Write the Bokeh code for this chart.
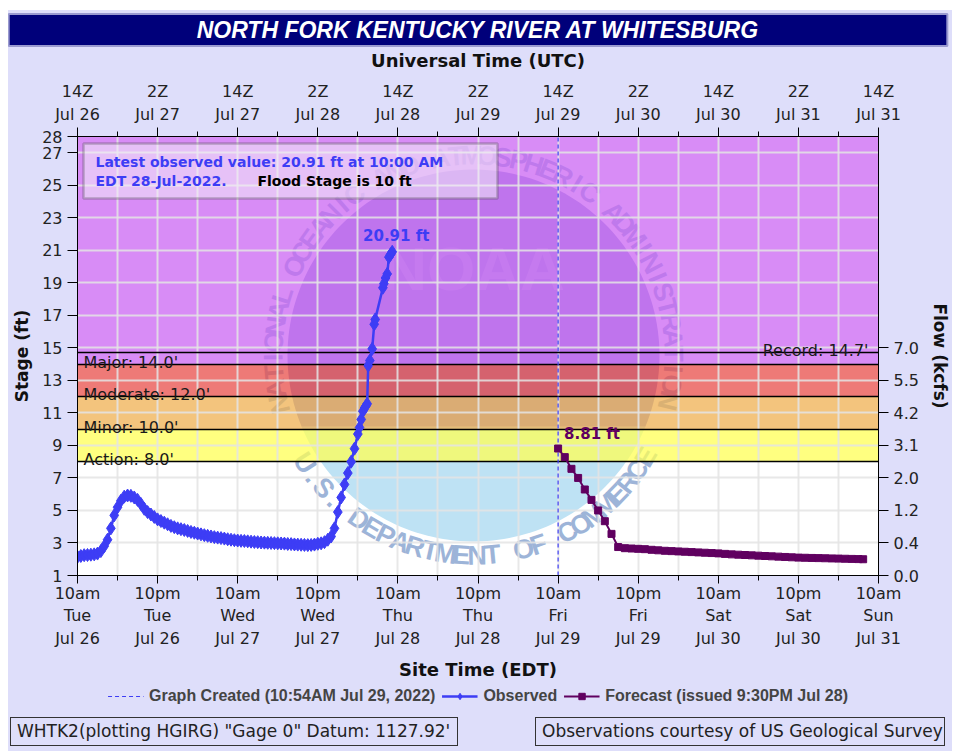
import numpy as np
from bokeh.plotting import figure
from bokeh.layouts import column
from bokeh.models import (Range1d, LinearAxis, FixedTicker, Label, BoxAnnotation,
                          Legend, LegendItem, Title, Div)
from bokeh.core.properties import value
from bokeh.embed import file_html
from bokeh.resources import INLINE

# ---------------- data ----------------
# hours since 10am EDT Tue Jul 26 2022
obs_hours = [0, 0.5, 1, 1.5, 2, 2.5, 3, 3.5, 4, 4.5, 5, 5.5, 6, 6.5, 7, 7.5, 8, 8.5, 9,
             9.5, 10, 10.5, 11, 11.5, 12, 12.5, 13, 13.5, 14, 14.5, 15, 15.5, 16, 16.5,
             17, 17.5, 18, 18.5, 19, 19.5, 20, 20.5, 21, 21.5, 22, 22.5, 23, 23.5, 24,
             24.5, 25, 25.5, 26, 26.5, 27, 27.5, 28, 28.5, 29, 29.5, 30, 30.5, 31, 31.5,
             32, 32.5, 33, 33.5, 34, 34.5, 35, 35.5, 36, 36.5, 37,
             37.5, 38.0, 38.5, 39.0, 39.5, 40.0, 40.5, 41.0, 41.5, 42.0, 42.25, 42.5,
             42.75, 43.0, 43.25, 43.4, 43.55, 43.8, 44.15, 44.45, 44.6, 45.75, 45.9,
             46.15, 46.4, 46.65, 46.9, 47.15]
obs_stage = [2.15, 2.2, 2.25, 2.26, 2.28, 2.3, 2.35, 2.5, 2.8, 3.2, 3.9, 4.7, 5.2, 5.6,
             5.85, 5.92, 5.9, 5.8, 5.65, 5.4, 5.1, 4.9, 4.75, 4.6, 4.45, 4.35, 4.25, 4.15,
             4.05, 3.97, 3.9, 3.85, 3.8, 3.74, 3.68, 3.63, 3.58, 3.53, 3.48, 3.44, 3.4,
             3.36, 3.33, 3.3, 3.27, 3.23, 3.2, 3.17, 3.15, 3.13, 3.12, 3.1, 3.08, 3.06,
             3.05, 3.03, 3.02, 3.01, 3.0, 2.99, 2.98, 2.97, 2.96, 2.94, 2.93, 2.91, 2.9,
             2.89, 2.88, 2.87, 2.88, 2.9, 2.95, 2.98, 3.05,
             3.2, 3.4, 3.9, 4.9, 5.8, 6.6, 7.3, 8.0, 8.8, 9.7, 10.1, 10.6,
             11.1, 11.3, 11.45, 11.56, 13.91, 14.22, 14.94, 16.45, 16.75, 18.7, 18.95,
             19.3, 19.55, 20.58, 20.75, 20.91]
fcst_hours = [72, 73, 74, 75, 76, 77, 78, 79, 80, 81, 82, 83, 84, 85, 86, 87, 88, 89,
              90, 91, 92, 93, 94, 95, 96, 97, 98, 99, 100, 101, 102, 103, 104, 105,
              106, 107, 108, 109, 110, 111, 112, 113, 114, 115, 116, 117, 117.7]
fcst_stage = [8.81, 8.28, 7.56, 7.0, 6.29, 5.65, 5.0, 4.34, 3.56, 2.75, 2.68, 2.66,
              2.64, 2.62, 2.58, 2.55, 2.52, 2.5, 2.48, 2.46, 2.44, 2.42, 2.4, 2.38,
              2.36, 2.33, 2.3, 2.28, 2.26, 2.24, 2.22, 2.2, 2.18, 2.16, 2.14, 2.12,
              2.1, 2.09, 2.08, 2.07, 2.06, 2.05, 2.04, 2.03, 2.02, 2.01, 2.0]
created_hour = 72.0

x_tick_hours = [0, 12, 24, 36, 48, 60, 72, 84, 96, 108, 120]
edt_labels = ["10am\nTue\nJul 26", "10pm\nTue\nJul 26", "10am\nWed\nJul 27",
              "10pm\nWed\nJul 27", "10am\nThu\nJul 28", "10pm\nThu\nJul 28",
              "10am\nFri\nJul 29", "10pm\nFri\nJul 29", "10am\nSat\nJul 30",
              "10pm\nSat\nJul 30", "10am\nSun\nJul 31"]
utc_labels = ["14Z\nJul 26", "2Z\nJul 27", "14Z\nJul 27", "2Z\nJul 28", "14Z\nJul 28",
              "2Z\nJul 29", "14Z\nJul 29", "2Z\nJul 30", "14Z\nJul 30", "2Z\nJul 31",
              "14Z\nJul 31"]
stage_ticks = [1, 3, 5, 7, 9, 11, 13, 15, 17, 19, 21, 23, 25, 27, 28]
flow_tick_stage = [1, 3, 5, 7, 9, 11, 13, 15]
flow_labels = ["0.0", "0.4", "1.2", "2.0", "3.1", "4.2", "5.5", "7.0"]
cat_names = ["Action", "Minor", "Moderate", "Major"]
cat_stage = [8, 10, 12, 14]
cat_top = [10, 12, 14, 28]
cat_colors = ["#FFFF56", "#EFB052", "#E84E49", "#CB66F3"]
record_stage = 14.7

# ---------------- geometry ----------------
FW, FH = 801, 439
X0, X1 = 0, 120
Y0, Y1 = 1, 28
PXH = FW / (X1 - X0)
PXF = FH / (Y1 - Y0)
FL, FB = 77, 575  # page position of frame left / bottom in reference
PAGE_L, PAGE_T = 8, 10
FIG_W = 944
B_LEFT, B_RIGHT = FL - PAGE_L, 74


def hx(px):
    return X0 + (px - FL) / PXH


def sy(py):
    return Y0 + (FB - py) / PXF


BG = "#DEDEFA"
OBS = "#3D3DF5"
FC = "#600060"
FONT = value("DejaVu Sans")

p = figure(frame_width=FW, frame_height=FH, x_range=Range1d(X0, X1),
           y_range=Range1d(Y0, Y1), output_backend="svg", toolbar_location=None,
           min_border_left=B_LEFT, min_border_right=B_RIGHT, min_border_top=136 - PAGE_T,
           min_border_bottom=0, background_fill_color="white",
           border_fill_color=BG, outline_line_color="black")

p.title = Title(text="NORTH FORK KENTUCKY RIVER AT WHITESBURG", align="center",
                text_color="white", text_font="Liberation Sans",
                text_font_style="bold italic", text_font_size="23px",
                background_fill_color="#00007A", border_line_color="#9A9AD0",
                border_line_width=2, padding=dict(left=188, right=188, top=3, bottom=3),
                offset=0, standoff=1)

# ---------------- watermark ----------------
cx, cy = hx(473), sy(355)
R = 186
R_TXT = 200
th_up = np.radians(np.linspace(-22.5, 202.5, 120))
th_lo = np.radians(np.linspace(202.5, 337.5, 80))
p.patch(cx + R * np.cos(th_up) / PXH, cy + R * np.sin(th_up) / PXF,
        fill_color="#9CA0DA", line_color=None, level="image")
p.patch(cx + R * np.cos(th_lo) / PXH, cy + R * np.sin(th_lo) / PXF,
        fill_color="#BEE2F4", line_color=None, level="image")


def ring(text, start, step, top):
    xs, ys, ang = [], [], []
    for i, _ in enumerate(text):
        t = np.radians(start + i * step)
        xs.append(cx + R_TXT * np.cos(t) / PXH)
        ys.append(cy + R_TXT * np.sin(t) / PXF)
        ang.append(t - np.pi / 2 if top else t + np.pi / 2)
    return xs, ys, ang, list(text)


for txt, st, stp, top in [("NATIONAL OCEANIC AND ATMOSPHERIC ADMINISTRATION", 194, -4.5, True),
                          ("U.S. DEPARTMENT OF COMMERCE", 212.5, 4.5, False)]:
    xs, ys, ang, chars = ring(txt, st, stp, top)
    p.text(xs, ys, text=chars, angle=ang, text_align="center", text_baseline="middle",
           text_font=value("Liberation Sans"), text_font_style="bold",
           text_font_size="27px", text_color="#9DB4D8", level="image")
p.text([cx], [sy(268)], text=["NOAA"], text_align="center", text_baseline="middle",
       text_font=value("Liberation Sans"), text_font_style="bold", text_font_size="62px",
       text_color="white", text_alpha=0.25, level="image")

# ---------------- flood bands ----------------
p.hstrip(y0=cat_stage, y1=cat_top, fill_color=cat_colors, fill_alpha=0.75,
         line_color=None, level="image")
p.hspan(y=cat_stage + [record_stage], line_color="black", line_width=1.5)
p.text([X0] * 4, cat_stage, text=[f"{n}: {v:.1f}'" for n, v in zip(cat_names, cat_stage)],
       x_offset=6, y_offset=-2, text_baseline="alphabetic", text_font=FONT,
       text_font_size="16px", text_color="#1a1a1a")
p.text([X1], [record_stage], text=[f"Record: {record_stage}'"], x_offset=-10, y_offset=-2,
       text_align="right", text_baseline="alphabetic", text_font=FONT,
       text_font_size="16px", text_color="#1a1a1a")

# ---------------- grid ----------------
p.xgrid.ticker = FixedTicker(ticks=list(range(X0, X1 + 1, 6)))
p.ygrid.ticker = FixedTicker(ticks=list(range(1, 28, 2)))
for g in (p.xgrid, p.ygrid):
    g.grid_line_color = "#E4E4E4"
    g.grid_line_width = 2
    g.grid_line_alpha = 0.85

# ---------------- axes ----------------
minor = list(range(6, 120, 12))


def style(ax, fs="16px"):
    ax.axis_line_color = "black"
    ax.major_tick_line_color = "black"
    ax.minor_tick_line_color = "black"
    ax.major_tick_in = 0
    ax.minor_tick_in = 0
    ax.major_label_text_font = "DejaVu Sans"
    ax.major_label_text_font_size = fs
    ax.major_label_text_color = "#222222"
    ax.axis_label_text_font = "DejaVu Sans"
    ax.axis_label_text_font_style = "bold"
    ax.axis_label_text_color = "#111111"


xb = p.xaxis[0]
xb.ticker = FixedTicker(ticks=x_tick_hours, minor_ticks=minor)
xb.major_label_overrides = dict(zip(x_tick_hours, edt_labels))
xb.axis_label = "Site Time (EDT)"
style(xb)
xb.major_tick_out = 8
xb.minor_tick_out = 5
xb.major_label_standoff = 0
xb.major_label_text_line_height = 1.2
xb.axis_label_standoff = 8
xb.axis_label_text_font_size = "18px"

xt = LinearAxis(ticker=FixedTicker(ticks=x_tick_hours, minor_ticks=minor),
                major_label_overrides=dict(zip(x_tick_hours, utc_labels)),
                axis_label="Universal Time (UTC)")
style(xt)
xt.major_tick_out = 9
xt.minor_tick_out = 5
xt.major_label_standoff = 4
xt.major_label_text_line_height = 1.2
xt.axis_label_standoff = 8
xt.axis_label_text_font_size = "18px"
p.add_layout(xt, "above")

yl = p.yaxis[0]
yl.ticker = FixedTicker(ticks=stage_ticks)
yl.axis_label = "Stage (ft)"
style(yl)
yl.major_tick_out = 10
yl.minor_tick_out = 0
yl.major_label_standoff = 5
yl.axis_label_standoff = 7
yl.axis_label_text_font_size = "17px"

p.extra_y_ranges = {"flow": Range1d(Y0, Y1)}
yr = LinearAxis(y_range_name="flow", ticker=FixedTicker(ticks=flow_tick_stage),
                major_label_overrides=dict(zip(flow_tick_stage, flow_labels)),
                axis_label="Flow (kcfs)")
style(yr)
yr.major_tick_out = 10
yr.minor_tick_out = 0
yr.major_label_standoff = 5
yr.axis_label_standoff = 8
yr.axis_label_text_font_size = "17px"
p.add_layout(yr, "right")

# ---------------- series ----------------
created_kw = dict(line_color=OBS, line_dash="4 3", line_width=1.2)
obs_line_kw = dict(line_color=OBS, line_width=2.5)
obs_pt_kw = dict(marker="diamond", size=13, fill_color=OBS, line_color=OBS)
fc_line_kw = dict(line_color=FC, line_width=2)
fc_pt_kw = dict(marker="square", size=7, fill_color=FC, line_color=FC)

p.line([created_hour, created_hour], [Y0, Y1], **created_kw)
p.line(obs_hours, obs_stage, **obs_line_kw)
p.scatter(obs_hours, obs_stage, **obs_pt_kw)
p.line(fcst_hours, fcst_stage, **fc_line_kw)
p.scatter(fcst_hours, fcst_stage, **fc_pt_kw)

p.text([obs_hours[-1]], [obs_stage[-1]], text=[f"{obs_stage[-1]:.2f} ft"], x_offset=4,
       y_offset=-7, text_align="center", text_baseline="bottom", text_font=FONT,
       text_font_style="bold", text_font_size="15px", text_color=OBS)
p.text([fcst_hours[0]], [fcst_stage[0]], text=[f"{fcst_stage[0]:.2f} ft"], x_offset=6,
       y_offset=-6, text_align="left", text_baseline="bottom", text_font=FONT,
       text_font_style="bold", text_font_size="15px", text_color=FC)

# ---------------- latest observation box ----------------
p.add_layout(BoxAnnotation(left=hx(83), right=hx(497), top=sy(143), bottom=sy(198),
                           fill_color="#F2ECF8", fill_alpha=0.55, line_color="#444444",
                           line_width=2.5, level="annotation"))
p.add_layout(Label(x=hx(95), y=sy(161),
                   text="Latest observed value: 20.91 ft at 10:00 AM",
                   text_baseline="middle", text_font="DejaVu Sans", text_font_style="bold",
                   text_font_size="14px", text_color=OBS))
p.add_layout(Label(x=hx(95), y=sy(180), text="EDT 28-Jul-2022.", text_baseline="middle",
                   text_font="DejaVu Sans", text_font_style="bold", text_font_size="14px",
                   text_color=OBS))
p.add_layout(Label(x=hx(257), y=sy(180), text="Flood Stage is 10 ft",
                   text_baseline="middle", text_font="DejaVu Sans", text_font_style="bold",
                   text_font_size="14px", text_color="black"))

# ---------------- legend strip ----------------
LEG_H = 25
q = figure(width=FIG_W, height=LEG_H, x_range=Range1d(0, 1), y_range=Range1d(0, 1),
           output_backend="svg", toolbar_location=None, min_border_left=B_LEFT,
           min_border_right=B_RIGHT, min_border_top=0, min_border_bottom=0,
           x_axis_location=None, y_axis_location=None,
           background_fill_color=BG, border_fill_color=BG, outline_line_color=None)
q.grid.visible = False
# legend swatches: one point each, placed outside the strip's visible range
OUT = [-10]
lg_created = q.line(OUT, OUT, **created_kw)
lg_obs_l = q.line(OUT, OUT, **obs_line_kw)
lg_obs_p = q.scatter(OUT, OUT, **dict(obs_pt_kw, size=11))
lg_fc_l = q.line(OUT, OUT, **fc_line_kw)
lg_fc_p = q.scatter(OUT, OUT, **fc_pt_kw)
legend = Legend(items=[LegendItem(label="Graph Created (10:54AM Jul 29, 2022)", renderers=[lg_created]),
                       LegendItem(label="Observed", renderers=[lg_obs_l, lg_obs_p]),
                       LegendItem(label="Forecast (issued 9:30PM Jul 28)", renderers=[lg_fc_l, lg_fc_p])],
                orientation="horizontal", location="center", border_line_color=None,
                background_fill_alpha=0, label_text_font="Liberation Sans",
                label_text_font_style="bold", label_text_font_size="16px",
                glyph_width=36, glyph_height=16, spacing=6, label_standoff=6,
                padding=0, margin=0)
q.add_layout(legend)

# ---------------- info boxes ----------------
INFO_H = 47
info_left = "WHTK2(plotting HGIRG) &quot;Gage 0&quot; Datum: 1127.92'"
info_right = "Observations courtesy of US Geological Survey"
box_css = ("position:absolute;top:9px;height:29px;box-sizing:border-box;"
           "border:1.5px solid #333333;padding:2px 0 0 6px;white-space:nowrap;"
           "line-height:22px;")
html = (f'<div style="position:relative;width:{FIG_W}px;height:{INFO_H}px;background:{BG};'
        f'font-family:\'DejaVu Sans\';font-size:17px;color:#222222;">'
        f'<div style="{box_css}left:{10 - PAGE_L}px;width:448px;">{info_left}</div>'
        f'<div style="{box_css}left:{535 - PAGE_L}px;width:410px;">{info_right}</div>'
        f'</div>')
info = Div(text=html, width=FIG_W, height=INFO_H, margin=0)

layout = column(p, q, info, spacing=0, margin=(PAGE_T, 0, 0, PAGE_L),
                styles={"background-color": BG})
open("out.html", "w").write(file_html(layout, INLINE))
